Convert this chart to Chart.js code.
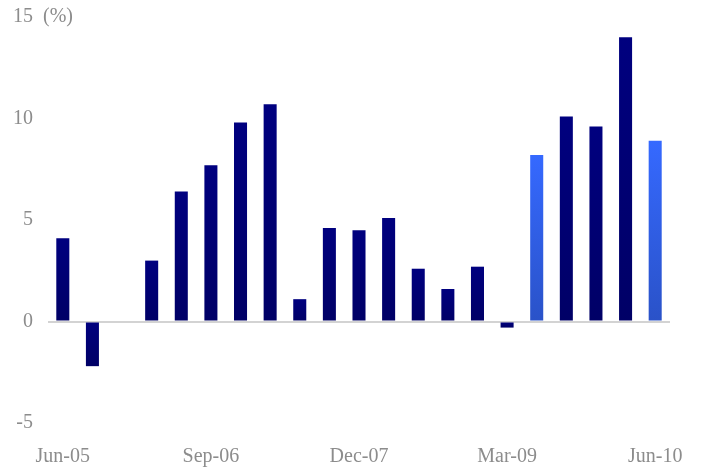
<!DOCTYPE html>
<html>
<head>
<meta charset="utf-8">
<script src="https://cdn.jsdelivr.net/npm/chart.js@4"></script>
<style>
    html, body { margin: 0; padding: 0; background: #fff; }
    #wrap { width: 701px; height: 468px; }
</style>
</head>
<body>
<div id="wrap"><canvas id="growthChart"></canvas></div>
<script>
// 季度标签
const quarters = [
    'Jun-05', 'Sep-05', 'Dec-05', 'Mar-06', 'Jun-06', 'Sep-06', 'Dec-06',
    'Mar-07', 'Jun-07', 'Sep-07', 'Dec-07', 'Mar-08', 'Jun-08', 'Sep-08',
    'Dec-08', 'Mar-09', 'Jun-09', 'Sep-09', 'Dec-09', 'Mar-10', 'Jun-10'
];

// 同比增长 (%)
const growth = [
    4.1, -2.2, null, 3.0, 6.4, 7.7, 9.8,
    10.7, 1.1, 4.6, 4.5, 5.1, 2.6, 1.6,
    2.7, -0.3, 8.2, 10.1, 9.6, 14.0, 8.9
];

// 浅色显示的季度
const highlightQuarters = ['Jun-09', 'Jun-10'];

// 纵轴刻度
const yTicks = [-5, 0, 5, 10, 15];

const FONT = "'Liberation Serif', serif";
const GREY = '#8c8c8c';

// 每根柱子上深下浅的渐变
function barColor(ctx) {
    const chart = ctx.chart;
    const y = chart.scales.y;
    const light = highlightQuarters.includes(quarters[ctx.dataIndex]);
    const top = light ? '#3569ff' : '#00007f';
    const bottom = light ? '#2a52c8' : '#000066';
    const v = ctx.raw;
    if (!y || v === null || v === undefined) return top;
    const p1 = y.getPixelForValue(Math.max(v, 0));
    const p2 = y.getPixelForValue(Math.min(v, 0));
    if (!isFinite(p1) || !isFinite(p2) || p1 === p2) return top;
    const g = chart.ctx.createLinearGradient(0, p1, 0, p2);
    g.addColorStop(0, top);
    g.addColorStop(1, bottom);
    return g;
}

// 在 15 旁边写单位
const unitLabel = {
    id: 'unitLabel',
    afterDraw(chart) {
        const c = chart.ctx;
        const y = chart.scales.y;
        c.save();
        c.font = '20px ' + FONT;
        c.fillStyle = GREY;
        c.textAlign = 'left';
        c.textBaseline = 'middle';
        c.fillText('(%)', 43, y.getPixelForValue(15));
        c.restore();
    }
};

new Chart(document.getElementById('growthChart'), {
    type: 'bar',
    data: {
        labels: quarters,
        datasets: [{
            data: growth,
            backgroundColor: barColor,
            borderWidth: 0,
            categoryPercentage: 1,
            barPercentage: 0.44
        }]
    },
    options: {
        responsive: true,
        maintainAspectRatio: false,
        animation: false,
        layout: { padding: { left: 0, right: 31, top: 17, bottom: 0 } },
        plugins: { legend: { display: false }, tooltip: { enabled: false } },
        scales: {
            x: {
                afterFit: (s) => { s.height = 45; },
                grid: { display: false },
                border: { display: false },
                ticks: {
                    autoSkip: false,
                    maxRotation: 0,
                    minRotation: 0,
                    padding: 14,
                    color: GREY,
                    font: { family: FONT, size: 20 },
                    callback: (v, i) => (i % 5 === 0 ? quarters[i] : '')
                }
            },
            y: {
                min: yTicks[0],
                max: yTicks[yTicks.length - 1],
                afterFit: (s) => { s.width = 48; s.paddingTop = 0; },
                afterBuildTicks: (s) => { s.ticks = yTicks.map(v => ({ value: v })); },
                border: { display: false },
                grid: {
                    drawTicks: false,
                    lineWidth: 2,
                    color: (c) => (c.tick && c.tick.value === 0 ? '#d3d3d3' : 'rgba(0,0,0,0)')
                },
                ticks: {
                    padding: 15,
                    color: GREY,
                    font: { family: FONT, size: 20 }
                }
            }
        }
    },
    plugins: [unitLabel]
});
</script>
</body>
</html>
